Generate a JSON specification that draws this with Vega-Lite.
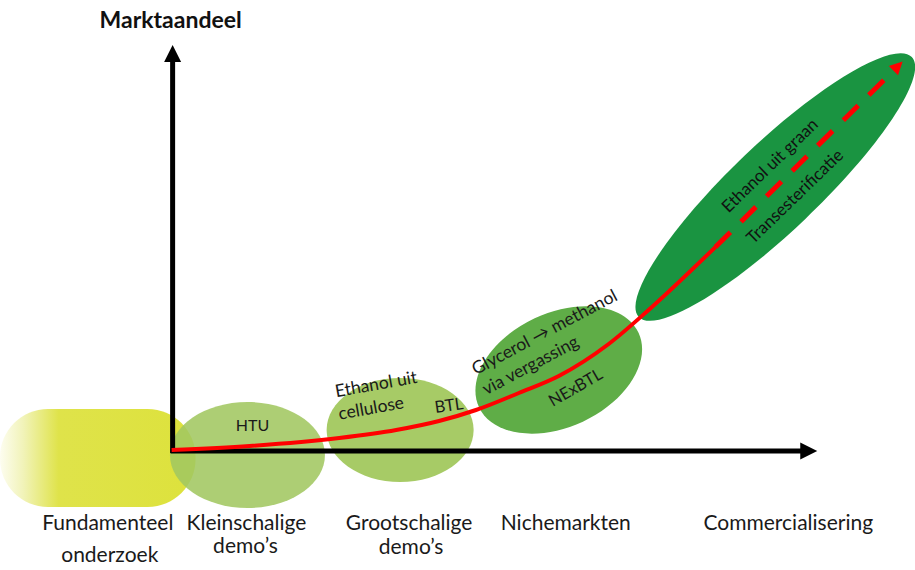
{
  "$schema": "https://vega.github.io/schema/vega-lite/v6.json",
  "width": 915,
  "height": 570,
  "autosize": {"type": "fit", "contains": "padding"},
  "padding": 0,
  "background": "white",
  "config": {"view": {"stroke": null}},
  "encoding": {
    "x": {"field": "x", "type": "quantitative", "scale": {"domain": [0, 915], "nice": false, "zero": false}, "axis": null},
    "y": {"field": "y", "type": "quantitative", "scale": {"domain": [0, 570], "nice": false, "zero": false, "reverse": true}, "axis": null}
  },
  "layer": [
    {
      "data": {"values": [{"x": 0, "y": 409, "x2": 196, "y2": 507}]},
      "mark": {"type": "rect", "cornerRadius": 48, "strokeWidth": 0,
        "color": {"gradient": "linear", "x1": 0, "y1": 0, "x2": 1, "y2": 0,
          "stops": [{"offset": 0, "color": "#fdfdf0"}, {"offset": 0.12, "color": "#f1f3b8"}, {"offset": 0.3, "color": "#dfe34a"}, {"offset": 1, "color": "#dde23c"}]}},
      "encoding": {"x2": {"field": "x2"}, "y2": {"field": "y2"}}
    },
    {
      "data": {"values": [{"x": 248, "y": 455}]},
      "mark": {"type": "point", "filled": true, "strokeWidth": 0, "opacity": 0.88, "color": "#a2c761", "size": 24025,
        "shape": "M1,0C1,0.378 0.552,0.684 0,0.684C-0.552,0.684 -1,0.378 -1,0C-1,-0.378 -0.552,-0.684 0,-0.684C0.552,-0.684 1,-0.378 1,0Z"}
    },
    {
      "data": {"values": [{"x": 401, "y": 430}]},
      "mark": {"type": "point", "filled": true, "strokeWidth": 0, "opacity": 1, "color": "#a7cb66", "size": 21609,
        "shape": "M1,0C1,0.391 0.552,0.707 0,0.707C-0.552,0.707 -1,0.391 -1,0C-1,-0.391 -0.552,-0.707 0,-0.707C0.552,-0.707 1,-0.391 1,0Z"}
    },
    {
      "data": {"values": [{"x": 560, "y": 370}]},
      "mark": {"type": "point", "filled": true, "strokeWidth": 0, "opacity": 1, "color": "#5fad47", "size": 30976, "angle": 335,
        "shape": "M1,0C1,0.358 0.552,0.648 0,0.648C-0.552,0.648 -1,0.358 -1,0C-1,-0.358 -0.552,-0.648 0,-0.648C0.552,-0.648 1,-0.358 1,0Z"}
    },
    {
      "data": {"values": [{"x": 777, "y": 187}]},
      "mark": {"type": "point", "filled": true, "strokeWidth": 0, "opacity": 1, "color": "#1a9441", "size": 142129, "angle": 316.4,
        "shape": "M1,0C1,0.129 0.552,0.233 0,0.233C-0.552,0.233 -1,0.129 -1,0C-1,-0.129 -0.552,-0.233 0,-0.233C0.552,-0.233 1,-0.129 1,0Z"}
    },
    {
      "data": {"values": [{"x": 173, "y": 453, "x2": 173, "y2": 58}, {"x": 171, "y": 451, "x2": 806, "y2": 451}]},
      "mark": {"type": "rule", "color": "#000000", "strokeWidth": 5, "strokeCap": "butt"},
      "encoding": {"x2": {"field": "x2"}, "y2": {"field": "y2"}}
    },
    {
      "data": {"values": [{"x": 173, "y": 53.5}]},
      "mark": {"type": "point", "filled": true, "strokeWidth": 0, "color": "#000000", "size": 289, "opacity": 1, "shape": "M0,-1L-1,1L1,1Z"}
    },
    {
      "data": {"values": [{"x": 810.5, "y": 451}]},
      "mark": {"type": "point", "filled": true, "strokeWidth": 0, "color": "#000000", "size": 289, "opacity": 1, "shape": "M1,0L-1,-1L-1,1Z"}
    },
    {
      "data": {"values": [
        {"x": 172, "y": 450}, {"x": 250, "y": 446}, {"x": 340, "y": 438}, {"x": 397, "y": 430},
        {"x": 440, "y": 421}, {"x": 477, "y": 410}, {"x": 520, "y": 393}, {"x": 560, "y": 376},
        {"x": 610, "y": 344}, {"x": 650, "y": 310}, {"x": 717, "y": 247}
      ]},
      "mark": {"type": "line", "color": "#ff0000", "strokeWidth": 4, "interpolate": "monotone", "strokeCap": "butt"}
    },
    {
      "data": {"values": [{"x": 717, "y": 247, "x2": 897, "y2": 69}]},
      "mark": {"type": "rule", "color": "#ff0000", "strokeWidth": 5, "strokeDash": [21, 15], "strokeCap": "butt"},
      "encoding": {"x2": {"field": "x2"}, "y2": {"field": "y2"}}
    },
    {
      "data": {"values": [{"x": 900, "y": 66}]},
      "mark": {"type": "point", "filled": true, "strokeWidth": 0, "color": "#ff0000", "size": 169, "opacity": 1, "angle": 45, "shape": "M0,-1L-1,1L1,1Z"}
    },
    {
      "data": {"values": [{"x": 171, "y": 21, "t": "Marktaandeel"}]},
      "mark": {"type": "text", "font": "Lato", "fontSize": 23, "fontWeight": "bold", "color": "#111111", "align": "center", "baseline": "middle"},
      "encoding": {"text": {"field": "t"}}
    },
    {
      "data": {"values": [
        {"x": 108, "y": 524, "t": "Fundamenteel"},
        {"x": 110, "y": 556, "t": "onderzoek"},
        {"x": 247, "y": 524, "t": "Kleinschalige"},
        {"x": 246, "y": 547, "t": "demo’s"},
        {"x": 410, "y": 524, "t": "Grootschalige"},
        {"x": 412, "y": 548, "t": "demo’s"},
        {"x": 567, "y": 524, "t": "Nichemarkten"},
        {"x": 790, "y": 524, "t": "Commercialisering"}
      ]},
      "mark": {"type": "text", "font": "Lato", "fontSize": 21, "color": "#1a1a1a", "align": "center", "baseline": "middle"},
      "encoding": {"text": {"field": "t"}}
    },
    {
      "data": {"values": [{"x": 253, "y": 426, "t": "HTU"}]},
      "mark": {"type": "text", "font": "Lato", "fontSize": 16, "color": "#1a1a1a", "align": "center", "baseline": "middle"},
      "encoding": {"text": {"field": "t"}}
    },
    {
      "data": {"values": [
        {"x": 377, "y": 385, "t": "Ethanol uit"},
        {"x": 372, "y": 409, "t": "cellulose"}
      ]},
      "mark": {"type": "text", "font": "Lato", "fontSize": 17.5, "color": "#1a1a1a", "align": "center", "baseline": "middle", "angle": 350},
      "encoding": {"text": {"field": "t"}}
    },
    {
      "data": {"values": [{"x": 450, "y": 406, "t": "BTL"}]},
      "mark": {"type": "text", "font": "Lato", "fontSize": 16.5, "color": "#1a1a1a", "align": "center", "baseline": "middle", "angle": 352},
      "encoding": {"text": {"field": "t"}}
    },
    {
      "data": {"values": [
        {"x": 546, "y": 333, "t": "Glycerol → methanol"},
        {"x": 532, "y": 366, "t": "via vergassing"}
      ]},
      "mark": {"type": "text", "font": "Lato", "fontSize": 17.5, "color": "#1a1a1a", "align": "center", "baseline": "middle", "angle": 332},
      "encoding": {"text": {"field": "t"}}
    },
    {
      "data": {"values": [{"x": 577, "y": 388, "t": "NExBTL"}]},
      "mark": {"type": "text", "font": "Lato", "fontSize": 16.5, "color": "#1a1a1a", "align": "center", "baseline": "middle", "angle": 330},
      "encoding": {"text": {"field": "t"}}
    },
    {
      "data": {"values": [
        {"x": 772, "y": 166, "t": "Ethanol uit graan"},
        {"x": 797, "y": 197, "t": "Transesterificatie"}
      ]},
      "mark": {"type": "text", "font": "Lato", "fontSize": 17, "color": "#111111", "align": "center", "baseline": "middle", "angle": 316},
      "encoding": {"text": {"field": "t"}}
    }
  ]
}
